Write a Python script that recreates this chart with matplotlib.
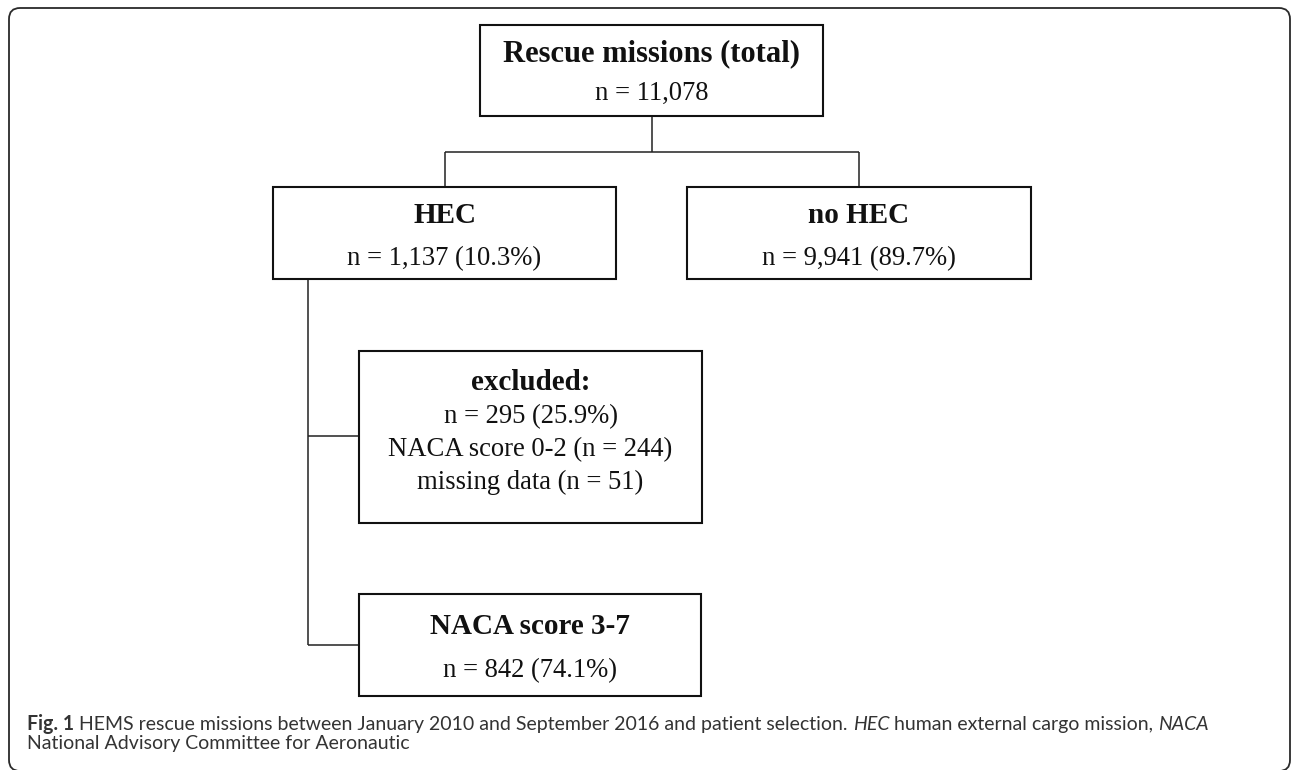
import matplotlib
matplotlib.use("Agg")
import matplotlib.pyplot as plt
from matplotlib.patches import Rectangle, PathPatch
from matplotlib.path import Path

# ---------------- data ----------------
box_titles = ["Rescue missions (total)", "HEC", "no HEC", "excluded:", "NACA score 3-7"]
box_lines = [
    ["n = 11,078"],
    ["n = 1,137 (10.3%)"],
    ["n = 9,941 (89.7%)"],
    ["n = 295 (25.9%)", "NACA score 0-2 (n = 244)", "missing data (n = 51)"],
    ["n = 842 (74.1%)"],
]
caption_line1 = [
    ("Fig. 1", "bold", "normal"),
    (" HEMS rescue missions between January 2010 and September 2016 and patient selection. ", "normal", "normal"),
    ("HEC", "normal", "italic"),
    (" human external cargo mission, ", "normal", "normal"),
    ("NACA", "normal", "italic"),
]
caption_line2 = [("National Advisory Committee for Aeronautic", "normal", "normal")]

# ---------------- layout (pixels) ----------------
W, H = 1292, 770
boxes = [(480, 25, 823, 116), (273, 187, 616, 279), (687, 187, 1031, 279),
         (359, 351, 702, 523), (359, 594, 701, 696)]
baselines = [[61, 100], [223, 265], [223, 265], [390, 423, 456, 489], [634, 677]]
connectors = [((652, 116), (652, 152)), ((445, 152), (859, 152)),
              ((445, 152), (445, 187)), ((859, 152), (859, 187)),
              ((308, 279), (308, 645)), ((308, 436), (359, 436)),
              ((308, 645), (359, 645))]

fig = plt.figure(figsize=(W / 100, H / 100), dpi=100)
ax = fig.add_axes([0, 0, 1, 1])
ax.set_xlim(0, W)
ax.set_ylim(H, 0)
ax.axis("off")

serif = ["Liberation Serif", "DejaVu Serif"]
ink = "#111111"

# outer rounded frame; its bottom edge is cut off by the image border
fl, ft, fr, fb, r = 9, 8, 1290, 771, 11
verts = [(fl + r, fb), (fl, fb), (fl, fb - r), (fl, ft + r), (fl, ft), (fl + r, ft),
         (fr - r, ft), (fr, ft), (fr, ft + r), (fr, fb - r), (fr, fb), (fr - r, fb)]
codes = [Path.MOVETO, Path.CURVE3, Path.CURVE3, Path.LINETO, Path.CURVE3, Path.CURVE3,
         Path.LINETO, Path.CURVE3, Path.CURVE3, Path.LINETO, Path.CURVE3, Path.CURVE3]
ax.add_patch(PathPatch(Path(verts, codes), fill=False, ec="#2a2a2a", lw=1.3))

for (a, b) in connectors:
    ax.plot([a[0], b[0]], [a[1], b[1]], color="#222222", lw=1.1, solid_capstyle="butt")

for i, (x0, y0, x1, y1) in enumerate(boxes):
    ax.add_patch(Rectangle((x0, y0), x1 - x0, y1 - y0, fill=True, fc="white",
                           ec=ink, lw=1.5, zorder=3))
    cx = (x0 + x1) / 2
    fs_title = 22 if i == 0 else 21
    ax.text(cx, baselines[i][0], box_titles[i], ha="center", va="baseline",
            fontsize=fs_title, fontweight="bold", family=serif, color=ink, zorder=4)
    for j, line in enumerate(box_lines[i]):
        ax.text(cx, baselines[i][j + 1], line, ha="center", va="baseline",
                fontsize=19.2, family=serif, color=ink, zorder=4)

# caption with mixed styles
cap_font = ["Lato", "DejaVu Sans"]
cap_color = "#333333"
renderer = fig.canvas.get_renderer()


def draw_pieces(pieces, x, y, fs):
    arts = []
    for txt, wt, st in pieces:
        t = ax.text(x, y, txt, ha="left", va="baseline", fontsize=fs, fontweight=wt,
                    fontstyle=st, family=cap_font, color=cap_color)
        bb = t.get_window_extent(renderer=renderer)
        x = x + bb.width
        arts.append(t)
    return arts, x


target_w = 1208 - 27
arts, xend = draw_pieces(caption_line1, 27, 730, 12)
w12 = xend - 27
for a in arts:
    a.remove()
fs_cap = 12 * target_w / w12
draw_pieces(caption_line1, 27, 730, fs_cap)
draw_pieces(caption_line2, 27, 749, fs_cap)

fig.savefig("out.png", dpi=100)
